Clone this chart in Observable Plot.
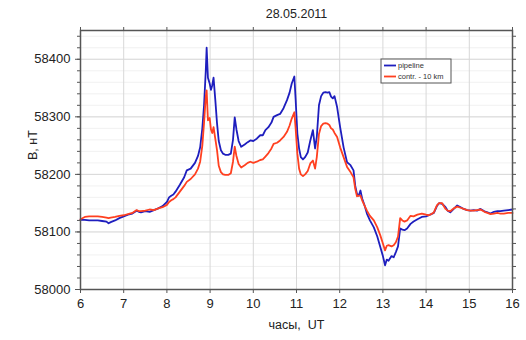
<!DOCTYPE html>
<html>
<head>
<meta charset="utf-8">
<script src="https://cdn.jsdelivr.net/npm/d3@7"></script>
<script src="https://cdn.jsdelivr.net/npm/@observablehq/plot@0.6"></script>
<style>
  html, body { margin: 0; padding: 0; background: #fff; }
  #chart { width: 526px; height: 340px; }
</style>
</head>
<body>
<div id="chart"></div>
<script>
const title = "28.05.2011";
const xLabel = "часы,  UT";
const yLabel = "B, нТ";
const seriesNames = ["pipeline", "contr. - 10 km"];
const seriesColors = ["#1e1ebe", "#ff4020"];
const xTicks = [6, 7, 8, 9, 10, 11, 12, 13, 14, 15, 16];
const yTicks = [58000, 58100, 58200, 58300, 58400];

const hours = [6.0, 6.1, 6.2, 6.3, 6.4, 6.5, 6.6, 6.65, 6.7, 6.8, 6.9, 7.0, 7.1, 7.2, 7.3, 7.35, 7.4, 7.5, 7.6, 7.7, 7.8, 7.9, 8.0, 8.05, 8.1, 8.15, 8.2, 8.3, 8.4, 8.46, 8.55, 8.65, 8.72, 8.77, 8.82, 8.86, 8.9, 8.92, 8.95, 8.99, 9.02, 9.05, 9.08, 9.12, 9.16, 9.2, 9.25, 9.3, 9.35, 9.42, 9.48, 9.53, 9.57, 9.61, 9.66, 9.72, 9.8, 9.87, 9.93, 10.0, 10.08, 10.16, 10.22, 10.28, 10.35, 10.42, 10.47, 10.55, 10.62, 10.7, 10.78, 10.84, 10.89, 10.95, 10.98, 11.02, 11.06, 11.1, 11.15, 11.2, 11.26, 11.32, 11.38, 11.43, 11.47, 11.52, 11.57, 11.62, 11.67, 11.72, 11.76, 11.8, 11.84, 11.88, 11.94, 12.01, 12.09, 12.17, 12.25, 12.32, 12.36, 12.4, 12.44, 12.48, 12.52, 12.58, 12.63, 12.7, 12.79, 12.87, 12.94, 13.0, 13.05, 13.09, 13.13, 13.2, 13.25, 13.3, 13.35, 13.4, 13.45, 13.5, 13.56, 13.64, 13.71, 13.8, 13.9, 14.0, 14.06, 14.12, 14.18, 14.25, 14.3, 14.37, 14.45, 14.5, 14.56, 14.64, 14.72, 14.8, 14.87, 14.95, 15.03, 15.1, 15.18, 15.26, 15.35, 15.42, 15.49, 15.57, 15.65, 15.72, 15.8, 15.9, 16.0];

const pipeline = [58121, 58121, 58120, 58120, 58120, 58119, 58118, 58115, 58117, 58120, 58124, 58127, 58130, 58132, 58137, 58135, 58134, 58136, 58135, 58138, 58141, 58145, 58152, 58160, 58163, 58165, 58170, 58182, 58195, 58207, 58210, 58220, 58232, 58247, 58280, 58320, 58380, 58420, 58368, 58358, 58347, 58355, 58368, 58330, 58289, 58258, 58242, 58236, 58234, 58234, 58236, 58260, 58299, 58278, 58258, 58248, 58252, 58256, 58259, 58258, 58262, 58268, 58268, 58277, 58282, 58290, 58300, 58303, 58305, 58315, 58329, 58342, 58358, 58370, 58330, 58271, 58245, 58230, 58226, 58230, 58238, 58259, 58277, 58245, 58265, 58320, 58336, 58342, 58343, 58342, 58343, 58335, 58332, 58336, 58317, 58282, 58247, 58221, 58216, 58207, 58180, 58166, 58163, 58172, 58158, 58145, 58132, 58120, 58108, 58092, 58074, 58058, 58042, 58052, 58050, 58058, 58056, 58065, 58075, 58106, 58104, 58103, 58106, 58114, 58118, 58122, 58126, 58127, 58129, 58131, 58133, 58145, 58150, 58149, 58143, 58137, 58134, 58140, 58146, 58143, 58140, 58138, 58137, 58138, 58137, 58140, 58136, 58134, 58132, 58135, 58136, 58136, 58137, 58138, 58139];

const control = [58122, 58126, 58127, 58127, 58127, 58126, 58125, 58124, 58125, 58126, 58128, 58129, 58131, 58133, 58138, 58136, 58136, 58137, 58139, 58138, 58141, 58143, 58147, 58152, 58155, 58157, 58160, 58170, 58180, 58187, 58192, 58200, 58210, 58222, 58250, 58290, 58335, 58346, 58294, 58298, 58278, 58272, 58282, 58262, 58242, 58215, 58204, 58200, 58199, 58199, 58202, 58222, 58248, 58232, 58218, 58212, 58216, 58220, 58222, 58220, 58222, 58225, 58226, 58231, 58237, 58245, 58253, 58255, 58259, 58265, 58274, 58285, 58297, 58308, 58280, 58236, 58210, 58200, 58197, 58200, 58206, 58219, 58224, 58210, 58230, 58270, 58284, 58288, 58289, 58288, 58286, 58280, 58278, 58272, 58265, 58247, 58230, 58213, 58204, 58195, 58175, 58162, 58163, 58163, 58155, 58145, 58137, 58128, 58120, 58108, 58094, 58080, 58068, 58076, 58077, 58075, 58077, 58082, 58092, 58124, 58120, 58118, 58120, 58128, 58127, 58130, 58132, 58130, 58129, 58131, 58134, 58146, 58150, 58150, 58140, 58137, 58136, 58141, 58144, 58142, 58140, 58138, 58137, 58137, 58138, 58139, 58135, 58133, 58131, 58132, 58133, 58132, 58132, 58133, 58133];

const data = [];
hours.forEach((h, i) => {
  data.push({t: h, v: pipeline[i], s: seriesNames[0]});
});
hours.forEach((h, i) => {
  data.push({t: h, v: control[i], s: seriesNames[1]});
});

const minorY = d3.range(58000, 58441, 20);
const font = "'Liberation Sans', Arial, sans-serif";

const plot = Plot.plot({
  width: 526,
  height: 340,
  marginLeft: 80,
  marginRight: 14,
  marginTop: 30,
  marginBottom: 51,
  style: {fontFamily: font, color: "#222", background: "#fff"},
  x: {domain: [6, 16], ticks: xTicks, label: null},
  y: {domain: [58000, 58450], ticks: yTicks, label: null},
  color: {domain: seriesNames, range: seriesColors},
  marks: [
    Plot.gridY(minorY, {stroke: "#eee", strokeOpacity: 1, strokeWidth: 0.8}),
    Plot.gridY(yTicks, {stroke: "#d8d8d8", strokeOpacity: 1, strokeWidth: 1}),
    Plot.gridX(xTicks, {stroke: "#d8d8d8", strokeOpacity: 1, strokeWidth: 1}),
    Plot.line(data, {x: "t", y: "v", z: "s", stroke: "s", strokeWidth: 1.8}),
    Plot.frame({stroke: "#555", strokeWidth: 1.5}),
    Plot.axisX({anchor: "bottom", ticks: xTicks, tickSize: 4, text: null, stroke: "#555", label: null}),
    Plot.axisX({anchor: "top", ticks: xTicks, tickSize: 4, text: null, stroke: "#555", label: null}),
    Plot.axisY({anchor: "left", ticks: minorY, tickSize: 3, text: null, stroke: "#555", label: null}),
    Plot.axisY({anchor: "left", ticks: yTicks, tickSize: 5, text: null, stroke: "#555", label: null}),
    Plot.axisY({anchor: "right", ticks: minorY, tickSize: 3, text: null, stroke: "#555", label: null}),
    Plot.text(xTicks, {x: d => d, text: d => String(d), frameAnchor: "bottom", lineAnchor: "middle", dy: 14, fontSize: 13, fill: "#222"}),
    Plot.text(yTicks, {y: d => d, text: d => String(d), frameAnchor: "left", textAnchor: "end", lineAnchor: "middle", dx: -10, fontSize: 13, fill: "#222"}),
    Plot.text([title], {frameAnchor: "top", lineAnchor: "middle", dy: -17, fontSize: 12.5, fill: "#222"}),
    Plot.text([xLabel], {frameAnchor: "bottom", lineAnchor: "middle", dy: 35, fontSize: 12.5, fill: "#222"}),
    Plot.text([yLabel], {frameAnchor: "left", lineAnchor: "middle", dx: -48, rotate: -90, fontSize: 12.5, fill: "#222"})
  ]
});

document.getElementById("chart").appendChild(plot);

// legend box (decoration)
const svg = d3.select(plot);
const lg = svg.append("g").attr("transform", "translate(381,59)");
lg.append("rect").attr("width", 70).attr("height", 24).attr("fill", "#fff").attr("stroke", "#555").attr("stroke-width", 1);
seriesNames.forEach((name, i) => {
  const y = 6.5 + i * 11;
  lg.append("line").attr("x1", 3).attr("x2", 15).attr("y1", y).attr("y2", y)
    .attr("stroke", seriesColors[i]).attr("stroke-width", 1.8);
  lg.append("text").attr("x", 17).attr("y", y).attr("dy", "0.35em")
    .attr("text-anchor", "start")
    .attr("font-size", 7.5).attr("font-family", font).attr("fill", "#333").text(name);
});
</script>
</body>
</html>
